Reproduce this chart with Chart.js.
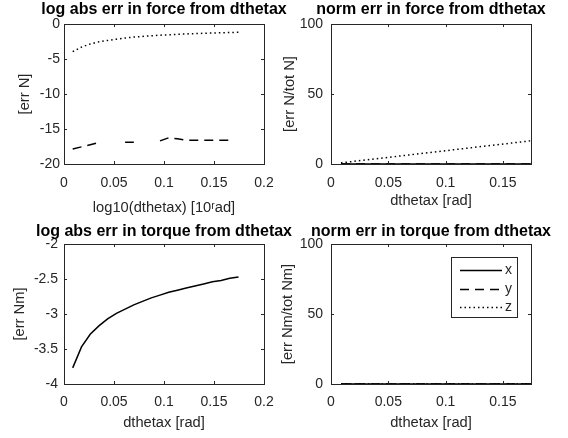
<!DOCTYPE html>
<html>
<head>
<meta charset="utf-8">
<script src="https://cdn.jsdelivr.net/npm/chart.js@4.4.1/dist/chart.umd.min.js"></script>
<style>
  html, body { margin: 0; padding: 0; background: #fff; }
  #wrap { position: relative; width: 568px; height: 438px; }
  #wrap canvas { position: absolute; left: 0; top: 0; }
</style>
</head>
<body>
<div id="wrap">
  <canvas id="forceLog" width="568" height="438"></canvas>
  <canvas id="forceNorm" width="568" height="438"></canvas>
  <canvas id="torqueLog" width="568" height="438"></canvas>
  <canvas id="torqueNorm" width="568" height="438"></canvas>
</div>
<script>
// dthetax steps (rad), 0.5 deg .. 10 deg
const dthetax = [0.0087, 0.0175, 0.0262, 0.0349, 0.0436, 0.0524, 0.0611, 0.0698, 0.0785, 0.0873,
                 0.0960, 0.1047, 0.1134, 0.1222, 0.1309, 0.1396, 0.1484, 0.1571, 0.1658, 0.1745];
const seriesNames = ["x", "y", "z"];

// log abs err in force (x error is zero -> not drawn)
const forceLogX = [null, null, null, null, null, null, null, null, null, null,
                   null, null, null, null, null, null, null, null, null, null];
const forceLogY = [-17.85, -17.55, -17.25, -16.95, null, null, -16.9, -16.9, null, null,
                   -16.7, -16.25, -16.4, -16.6, -16.6, -16.6, -16.6, -16.6, -16.6, null];
const forceLogZ = [-3.95, -3.3, -2.85, -2.55, -2.35, -2.17, -2.0, -1.87, -1.77, -1.68,
                   -1.6, -1.54, -1.48, -1.42, -1.37, -1.33, -1.29, -1.26, -1.22, -1.19];

// norm err in force [%]
const forceNormX = [0, 0, 0, 0, 0, 0, 0, 0, 0, 0, 0, 0, 0, 0, 0, 0, 0, 0, 0, 0];
const forceNormY = [0, 0, 0, 0, 0, 0, 0, 0, 0, 0, 0, 0, 0, 0, 0, 0, 0, 0, 0, 0];
const forceNormZ = [0.83, 1.66, 2.49, 3.32, 4.15, 4.97, 5.8, 6.63, 7.46, 8.29,
                    9.12, 9.95, 10.78, 11.61, 12.44, 13.27, 14.1, 14.93, 15.76, 16.58];

// log abs err in torque (y, z errors are zero -> not drawn)
const torqueLogX = [-3.77, -3.47, -3.29, -3.17, -3.07, -2.99, -2.93, -2.87, -2.82, -2.77,
                    -2.73, -2.69, -2.66, -2.63, -2.6, -2.57, -2.54, -2.52, -2.49, -2.47];
const torqueLogY = [null, null, null, null, null, null, null, null, null, null,
                    null, null, null, null, null, null, null, null, null, null];
const torqueLogZ = [null, null, null, null, null, null, null, null, null, null,
                    null, null, null, null, null, null, null, null, null, null];

// norm err in torque [%]
const torqueNormX = [0, 0, 0, 0, 0, 0, 0, 0, 0, 0, 0, 0, 0, 0, 0, 0, 0, 0, 0, 0];
const torqueNormY = [0, 0, 0, 0, 0, 0, 0, 0, 0, 0, 0, 0, 0, 0, 0, 0, 0, 0, 0, 0];
const torqueNormZ = [0, 0, 0, 0, 0, 0, 0, 0, 0, 0, 0, 0, 0, 0, 0, 0, 0, 0, 0, 0];

// tick labels
const xTicksWide = [0, 0.05, 0.1, 0.15, 0.2];
const xTicksTight = [0, 0.05, 0.1, 0.15];
const forceLogTicks = [-20, -15, -10, -5, 0];
const torqueLogTicks = [-4, -3.5, -3, -2.5, -2];
const normTicks = [0, 50, 100];

const ink = "#262626";
const dashes = [[], [9, 6], [1.5, 3]];
Chart.defaults.font.family = "'Liberation Sans', Arial, sans-serif";

// box round the axes with small inward tick marks
const frame = {
  id: "frame",
  afterDatasetsDraw(chart) {
    const { ctx, chartArea: a, scales } = chart;
    ctx.save();
    ctx.strokeStyle = ink;
    ctx.lineWidth = 1;
    ctx.strokeRect(a.left + 0.5, a.top + 0.5, a.right - a.left, a.bottom - a.top);
    ctx.beginPath();
    scales.x.ticks.forEach(t => {
      const px = Math.round(scales.x.getPixelForValue(t.value)) + 0.5;
      if (px <= a.left + 1 || px >= a.right - 1) return;
      ctx.moveTo(px, a.bottom); ctx.lineTo(px, a.bottom - 3);
      ctx.moveTo(px, a.top); ctx.lineTo(px, a.top + 3);
    });
    scales.y.ticks.forEach(t => {
      const py = Math.round(scales.y.getPixelForValue(t.value)) + 0.5;
      if (py <= a.top + 1 || py >= a.bottom - 1) return;
      ctx.moveTo(a.left, py); ctx.lineTo(a.left + 3, py);
      ctx.moveTo(a.right, py); ctx.lineTo(a.right - 3, py);
    });
    ctx.stroke();
    ctx.restore();
  }
};

const axTitle = {
  id: "axTitle",
  afterDraw(chart, args, opts) {
    const { ctx, chartArea: a } = chart;
    ctx.save();
    ctx.fillStyle = "#000";
    ctx.font = "bold 16px 'Liberation Sans', Arial, sans-serif";
    ctx.textAlign = "center";
    ctx.textBaseline = "middle";
    ctx.fillText(opts.text, (a.left + a.right) / 2, opts.y);
    ctx.restore();
  }
};

const boxLegend = {
  id: "boxLegend",
  afterDraw(chart, args, opts) {
    if (!opts.display) return;
    const { ctx, chartArea: a } = chart;
    const w = 66, h = 60;
    const left = a.right - 14 - w, top = a.top + 13;
    ctx.save();
    ctx.fillStyle = "#fff";
    ctx.fillRect(left, top, w, h);
    ctx.strokeStyle = ink;
    ctx.lineWidth = 1;
    ctx.strokeRect(left + 0.5, top + 0.5, w, h);
    ctx.font = "14px 'Liberation Sans', Arial, sans-serif";
    ctx.textBaseline = "middle";
    ctx.fillStyle = ink;
    const rows = [13, 32, 50];
    chart.data.datasets.forEach((ds, i) => {
      const y = top + rows[i] + 0.5;
      ctx.beginPath();
      ctx.setLineDash(ds.borderDash);
      ctx.strokeStyle = "#000";
      ctx.lineWidth = ds.borderWidth;
      ctx.moveTo(left + 9, y);
      ctx.lineTo(left + 51, y);
      ctx.stroke();
      ctx.setLineDash([]);
      ctx.fillText(ds.label, left + 54, y);
    });
    ctx.restore();
  }
};

function makeDatasets(series) {
  return series.map((vals, i) => ({
    label: seriesNames[i],
    data: dthetax.map((t, k) => ({ x: t, y: vals[k] })),
    borderColor: "#000",
    borderWidth: 1.5,
    borderDash: dashes[i],
    pointRadius: 0,
    tension: 0,
    spanGaps: false,
    fill: false
  }));
}

function makePlot(id, cfg) {
  const [bl, bt, br, bb] = cfg.box;
  new Chart(document.getElementById(id), {
    type: "line",
    data: { datasets: makeDatasets(cfg.series) },
    options: {
      responsive: false,
      animation: false,
      devicePixelRatio: 1,
      layout: {
        padding: { left: bl - cfg.yw, top: bt, right: 568 - br, bottom: 438 - bb - cfg.xh }
      },
      plugins: {
        legend: { display: false },
        tooltip: { enabled: false },
        axTitle: { text: cfg.title, y: cfg.titleY },
        boxLegend: { display: !!cfg.legend }
      },
      scales: {
        x: {
          type: "linear",
          min: 0,
          max: cfg.xMax,
          afterBuildTicks: s => { s.ticks = cfg.xTicks.map(v => ({ value: v })); },
          afterFit: s => { s.height = cfg.xh; },
          grid: { display: false, drawTicks: false },
          border: { display: false },
          ticks: {
            font: { size: 14 }, color: ink, padding: cfg.xtick,
            maxRotation: 0, autoSkip: false, callback: v => String(v)
          },
          title: {
            display: true, text: cfg.xLabel, color: ink,
            font: { size: 14.7, lineHeight: 1.2 },
            padding: { top: 0, bottom: cfg.xtp }
          }
        },
        y: {
          type: "linear",
          min: cfg.yTicks[0],
          max: cfg.yTicks[cfg.yTicks.length - 1],
          afterBuildTicks: s => { s.ticks = cfg.yTicks.map(v => ({ value: v })); },
          afterFit: s => { s.width = cfg.yw; },
          grid: { display: false, drawTicks: false },
          border: { display: false },
          ticks: {
            font: { size: 14 }, color: ink, padding: cfg.ytick,
            autoSkip: false, callback: v => String(v)
          },
          title: {
            display: true, text: cfg.yLabel, color: ink,
            font: { size: 14.7, lineHeight: 1.2 },
            padding: { top: cfg.ytp, bottom: 0 }
          }
        }
      }
    },
    plugins: [frame, axTitle, boxLegend]
  });
}

makePlot("forceLog", {
  box: [64, 24, 264, 164], yw: 60, xh: 60, ytp: 12, xtp: 7, ytick: 4, xtick: 11,
  series: [forceLogX, forceLogY, forceLogZ],
  xMax: 0.2, xTicks: xTicksWide, yTicks: forceLogTicks,
  title: "log abs err in force from dthetax", titleY: 10,
  xLabel: "log10(dthetax) [10\u02B3ad]", yLabel: "[err N]"
});

makePlot("forceNorm", {
  box: [331, 24, 531, 164], yw: 50, xh: 60, ytp: 0, xtp: 14, ytick: 8, xtick: 11,
  series: [forceNormX, forceNormY, forceNormZ],
  xMax: 0.1745, xTicks: xTicksTight, yTicks: normTicks,
  title: "norm err in force from dthetax", titleY: 10,
  xLabel: "dthetax [rad]", yLabel: "[err N/tot N]"
});

makePlot("torqueLog", {
  box: [64, 244, 264, 384], yw: 60, xh: 50, ytp: 7, xtp: 2, ytick: 6, xtick: 10,
  series: [torqueLogX, torqueLogY, torqueLogZ],
  xMax: 0.2, xTicks: xTicksWide, yTicks: torqueLogTicks,
  title: "log abs err in torque from dthetax", titleY: 232,
  xLabel: "dthetax [rad]", yLabel: "[err Nm]"
});

makePlot("torqueNorm", {
  box: [331, 244, 531, 384], yw: 52, xh: 50, ytp: 0, xtp: 2, ytick: 8, xtick: 10,
  series: [torqueNormX, torqueNormY, torqueNormZ],
  xMax: 0.1745, xTicks: xTicksTight, yTicks: normTicks,
  title: "norm err in torque from dthetax", titleY: 232,
  xLabel: "dthetax [rad]", yLabel: "[err Nm/tot Nm]", legend: true
});
</script>
</body>
</html>
